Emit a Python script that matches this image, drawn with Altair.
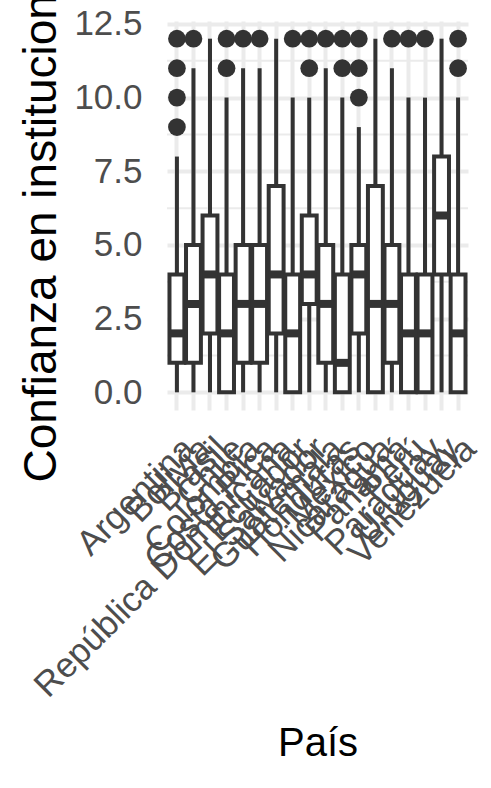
import altair as alt
import pandas as pd

paises = ["Argentina", "Bolivia", "Brasil", "Chile", "Colombia", "Costa Rica",
          "República Dominicana", "Ecuador", "El Salvador", "Guatemala", "Honduras",
          "México", "Nicaragua", "Panamá", "Perú", "Paraguay", "Uruguay", "Venezuela"]
bigote_inf = [0, 0, 0, 0, 0, 0, 0, 0, 0, 0, 0, 0, 0, 0, 0, 0, 0, 0]
q1 = [1, 1, 2, 0, 1, 1, 2, 0, 3, 1, 0, 2, 0, 1, 0, 0, 4, 0]
mediana = [2, 3, 4, 2, 3, 3, 4, 2, 4, 3, 1, 4, 3, 3, 2, 2, 6, 2]
q3 = [4, 5, 6, 4, 5, 5, 7, 4, 6, 5, 4, 5, 7, 5, 4, 4, 8, 4]
bigote_sup = [8, 11, 12, 10, 11, 11, 12, 10, 10, 11, 10, 9, 12, 11, 10, 10, 12, 10]
atipicos = [[9, 10, 11, 12], [12], [], [11, 12], [12], [12], [], [12], [11, 12], [12],
            [11, 12], [10, 11, 12], [], [12], [12], [12], [], [11, 12]]
y_ticks = [0, 2.5, 5, 7.5, 10, 12.5]
y_minor = [1.25, 3.75, 6.25, 8.75, 11.25]

cajas = pd.DataFrame({"pais": paises, "lo": bigote_inf, "q1": q1, "med": mediana,
                      "q3": q3, "hi": bigote_sup})
out = pd.DataFrame([{"pais": p, "valor": v} for p, vs in zip(paises, atipicos) for v in vs])
minor = pd.DataFrame({"v": y_minor})

W, H = 301, 389
FONT = "Liberation Sans"
DARK = "#333333"
GRID = "#EBEBEB"

xscale = alt.Scale(domain=paises, paddingInner=0, paddingOuter=0.1)
yscale = alt.Scale(domain=[-0.6, 12.6], nice=False, zero=False)

x_enc = alt.X("pais:N", sort=paises, scale=xscale, axis=alt.Axis(
    title="País", titleFontSize=40, titleColor="black", titleFontWeight="normal", titleFont=FONT,
    titleY=345, titleBaseline="alphabetic",
    labelAngle=-45, labelAlign="right", labelBaseline="top", labelFontSize=35,
    labelColor="#4D4D4D", labelFont=FONT, labelOverlap=False, labelLimit=0, labelBound=False,
    labelPadding=21, ticks=False, tickSize=0, domain=False, grid=True, gridColor=GRID,
    gridWidth=4, bandPosition=0.5))

y_axis = alt.Axis(
    values=y_ticks, format=".1f", title="Confianza en instituciones", titleFontSize=46,
    titleColor="black", titleFontWeight="normal", titleFont=FONT, titleAngle=270,
    titleAlign="left", titleBaseline="alphabetic", titleX=-112, titleY=461,
    labelFontSize=35, labelColor="#4D4D4D", labelFont=FONT, labelPadding=25,
    ticks=False, tickSize=0, domain=False, grid=True, gridColor=GRID, gridWidth=4)

grid_minor = alt.Chart(minor).mark_rule(color=GRID, strokeWidth=2).encode(
    y=alt.Y("v:Q", scale=yscale, axis=y_axis), x=alt.value(0), x2=alt.value(W))

base = alt.Chart(cajas)
w_low = base.mark_rule(color=DARK, strokeWidth=4).encode(
    x=x_enc, y=alt.Y("lo:Q", scale=yscale), y2="q1:Q")
w_high = base.mark_rule(color=DARK, strokeWidth=4).encode(
    x=x_enc, y=alt.Y("q3:Q", scale=yscale), y2="hi:Q")
box = base.mark_bar(fill="white", stroke=DARK, strokeWidth=4,
                    width=alt.RelativeBandSize(0.9)).encode(
    x=x_enc, y=alt.Y("q1:Q", scale=yscale), y2="q3:Q")
med = base.mark_tick(color=DARK, thickness=8, size=15, opacity=1).encode(
    x=x_enc, y=alt.Y("med:Q", scale=yscale))
pts = alt.Chart(out).mark_circle(color=DARK, size=314, opacity=1).encode(
    x=x_enc, y=alt.Y("valor:Q", scale=yscale))

chart = alt.layer(grid_minor, w_low, w_high, box, med, pts).properties(
    width=W, height=H,
    autosize=alt.AutoSizeParams(type="none"),
    padding={"left": 167, "top": 21, "right": 23, "bottom": 378},
    background="white",
).configure_view(stroke=None)

chart.save("out.html", embed_options={"renderer": "svg", "actions": False})
